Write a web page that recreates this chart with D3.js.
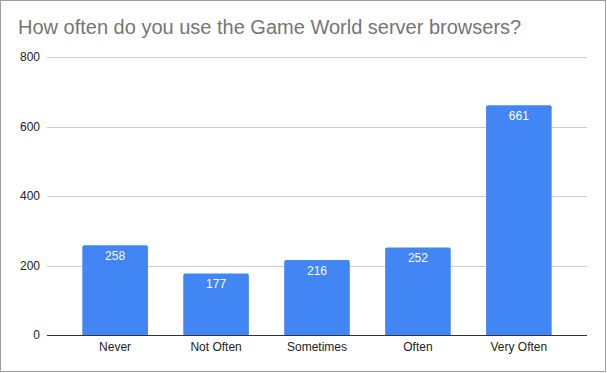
<!DOCTYPE html>
<html>
<head>
<meta charset="utf-8">
<script src="https://cdn.jsdelivr.net/npm/d3@7"></script>
<style>
	body { margin: 0; background: #fff; }
	svg { display: block; font-family: 'Liberation Sans', Arial, sans-serif; }
</style>
</head>
<body>
<script>
	// chart data
	var categories = ['Never', 'Not Often', 'Sometimes', 'Often', 'Very Often'];
	var counts = [258, 177, 216, 252, 661];
	var yTicks = [0, 200, 400, 600, 800];
	var title = 'How often do you use the Game World server browsers?';

	var width = 607,
		height = 373,
		plotLeft = 47,
		plotRight = 587,
		plotTop = 57,
		plotBottom = 335,
		barColor = '#4285f4';

	var svg = d3.select('body').append('svg')
		.attr('width', width)
		.attr('height', height);

	// outer border
	svg.append('rect')
		.attr('x', 0.5).attr('y', 0.5)
		.attr('width', width - 2).attr('height', height - 2)
		.attr('fill', '#fff')
		.attr('stroke', '#9e9e9e');

	svg.append('text')
		.attr('x', 18)
		.attr('y', 34)
		.attr('fill', '#757575')
		.style('font-size', '20px')
		.text(title);

	var x = d3.scaleBand()
		.domain(categories)
		.range([plotLeft, plotRight])
		.paddingInner(0.35)
		.paddingOuter(0.35);

	var y = d3.scaleLinear()
		.domain([0, 800])
		.range([plotBottom, plotTop]);

	// gridlines
	svg.append('g').selectAll('line').data(yTicks.slice(1)).enter().append('line')
		.attr('x1', plotLeft).attr('x2', plotRight)
		.attr('y1', function (d) { return Math.round(y(d)) + 0.5; })
		.attr('y2', function (d) { return Math.round(y(d)) + 0.5; })
		.attr('stroke', '#cccccc');

	// y tick labels
	svg.append('g').selectAll('text').data(yTicks).enter().append('text')
		.attr('x', 40)
		.attr('y', function (d) { return y(d) + 4; })
		.attr('text-anchor', 'end')
		.attr('fill', '#222')
		.style('font-size', '12px')
		.text(function (d) { return d; });

	var data = categories.map(function (c, i) { return { cat: c, v: counts[i] }; });

	// bars with small rounded top corners
	var r = 2;
	svg.append('g').selectAll('path').data(data).enter().append('path')
		.attr('fill', barColor)
		.attr('d', function (d) {
			var x0 = x(d.cat), x1 = x0 + x.bandwidth(), y0 = y(d.v), yb = y(0);
			return 'M' + x0 + ',' + yb + 'V' + (y0 + r) + 'Q' + x0 + ',' + y0 + ' ' + (x0 + r) + ',' + y0 +
				'H' + (x1 - r) + 'Q' + x1 + ',' + y0 + ' ' + x1 + ',' + (y0 + r) + 'V' + yb + 'Z';
		});

	// value labels
	svg.append('g').selectAll('text').data(data).enter().append('text')
		.attr('x', function (d) { return x(d.cat) + x.bandwidth() / 2; })
		.attr('y', function (d) { return y(d.v) + 15; })
		.attr('text-anchor', 'middle')
		.attr('fill', '#fff')
		.style('font-size', '12px')
		.text(function (d) { return d.v; });

	// baseline
	svg.append('line')
		.attr('x1', plotLeft).attr('x2', plotRight)
		.attr('y1', plotBottom + 0.5).attr('y2', plotBottom + 0.5)
		.attr('stroke', '#333');

	// category labels
	svg.append('g').selectAll('text').data(categories).enter().append('text')
		.attr('x', function (d) { return x(d) + x.bandwidth() / 2; })
		.attr('y', 351)
		.attr('text-anchor', 'middle')
		.attr('fill', '#222')
		.style('font-size', '12px')
		.text(function (d) { return d; });
</script>
</body>
</html>
